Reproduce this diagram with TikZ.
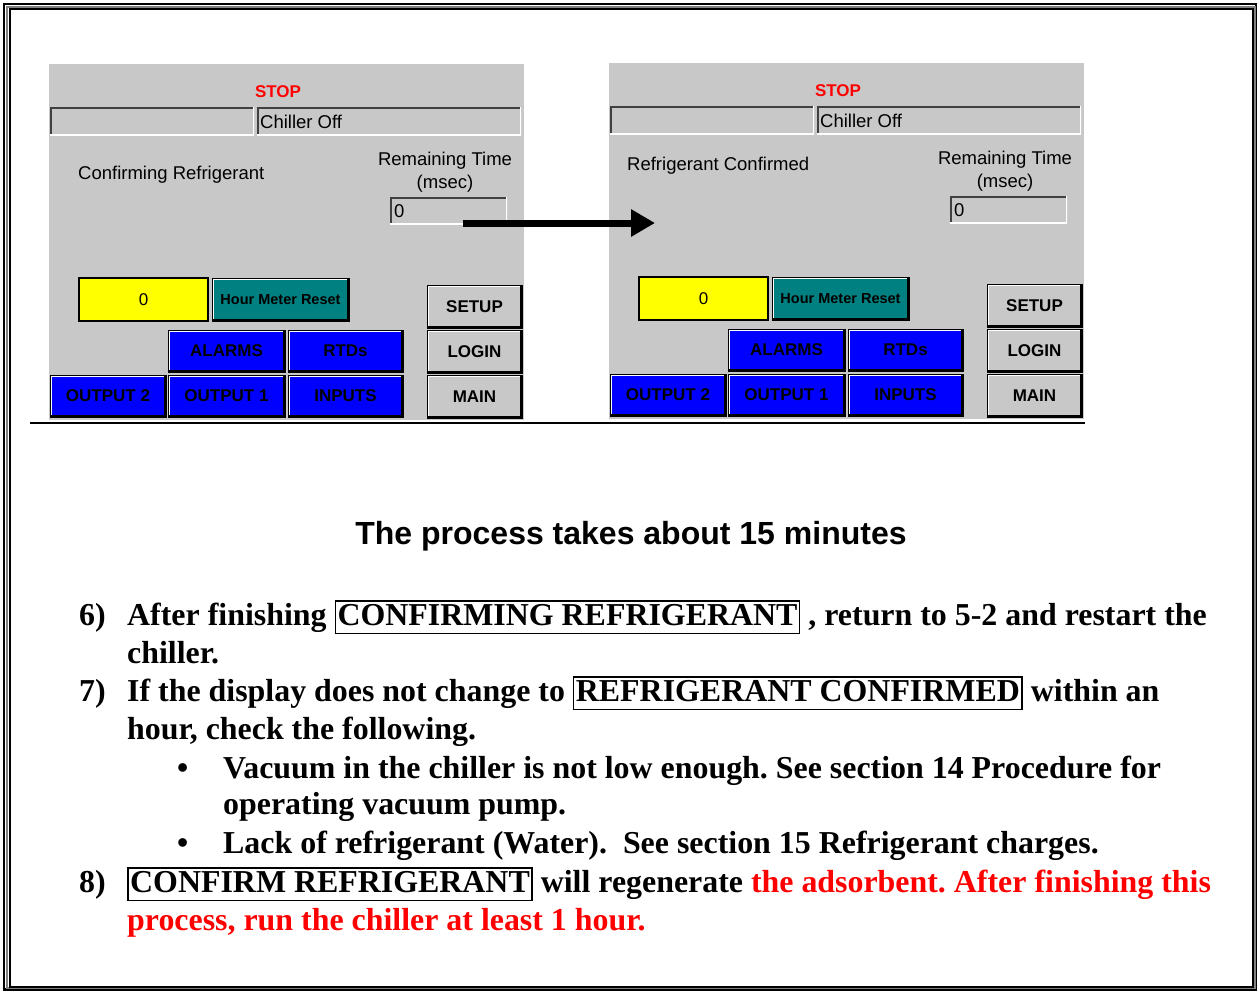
\documentclass[tikz,border=0pt]{standalone}
\usepackage{fontspec}
\setmainfont{Liberation Serif}
\newfontfamily\uifont{Liberation Sans}
\usetikzlibrary{arrows.meta, positioning}
\definecolor{panelgray}{RGB}{200,200,200}
\definecolor{edgedark}{RGB}{64,64,64}
\definecolor{btnblue}{RGB}{0,0,255}
\definecolor{btnteal}{RGB}{0,128,128}
\definecolor{lampyellow}{RGB}{255,255,0}
\definecolor{textred}{RGB}{255,0,0}
\definecolor{framegray}{RGB}{128,128,128}
\frenchspacing
\newcommand\wordbox[1]{{\setlength\fboxsep{1.5pt}\setlength\fboxrule{1.5pt}\fbox{\rule[-6pt]{0pt}{28pt}#1}}}
\tikzset{
  panelbg/.style={rectangle, fill=panelgray, inner sep=0},
  sunken/.style={rectangle, fill=panelgray, inner sep=0,
    path picture={
      \draw[edgedark, line width=4pt] (path picture bounding box.south west) -- (path picture bounding box.north west) -- (path picture bounding box.north east);
      \draw[white, line width=3pt] (path picture bounding box.north east) -- (path picture bounding box.south east) -- (path picture bounding box.south west);}},
  raised/.style={rectangle, draw=black, line width=0.8pt, inner sep=0,
    font=\uifont\bfseries\fontsize{17}{20}\selectfont,
    path picture={
      \draw[white, line width=3pt] (path picture bounding box.south west) -- (path picture bounding box.north west) -- (path picture bounding box.north east);
      \draw[black, line width=4pt] (path picture bounding box.north east) -- (path picture bounding box.south east) -- (path picture bounding box.south west);}},
  bluebtn/.style={raised, fill=btnblue, minimum height=42},
  graybtn/.style={raised, fill=panelgray, minimum width=95, minimum height=43},
  uitext/.style={inner sep=0, font=\uifont\fontsize{18.5}{23}\selectfont},
  bodytext/.style={inner sep=0, anchor=base west, font=\bfseries\fontsize{31.9}{38}\selectfont},
  titletext/.style={inner sep=0, font=\uifont\bfseries\fontsize{32}{38}\selectfont},
  bigarrow/.style={-{Triangle[length=24pt, width=26pt]}, line width=7pt}
}
\begin{document}
\begin{tikzpicture}[x=1pt, y=-1pt]
  \useasboundingbox (0,0) rectangle (1257,990);
  % page frame
  \draw[line width=2.5pt] (4,4) rectangle (1256,989.5);
  \draw[framegray, line width=2pt] (6.8,6.8) rectangle (1254.8,988.2);
  \draw[line width=2pt] (9.5,9.5) rectangle (1253,987);

  % the two screens
  \foreach \dx/\dy/\p/\msg/\mx/\my in {0/0/a/Confirming Refrigerant/78/175, 560/-1/b/Refrigerant Confirmed/67/167} {
    \begin{scope}[shift={(\dx,\dy)}]
      \node[panelbg, minimum width=475, minimum height=356] (panel-\p) at (286.5,242) {};
      \node[uitext, text=textred, font=\uifont\bfseries\fontsize{17}{20}\selectfont] (stop-\p) at (278,92) {STOP};
      \node[sunken, minimum width=204, minimum height=28] (field-\p) at (152,121) {};
      \node[sunken, minimum width=264, minimum height=28] (status-\p) at (389,121) {};
      \node[uitext, anchor=west] (chiller-\p) at (260,122) {Chiller Off};
      \node[uitext, anchor=west] (msg-\p) at (\mx,\my) {\msg};
      \node[uitext, align=center] (remain-\p) at (445,172) {Remaining Time\\(msec)};
      \node[sunken, minimum width=117, minimum height=27] (tbox-\p) at (448.5,210.5) {};
      \node[uitext, anchor=west] (tval-\p) at (394,211) {0};
      \node[draw=black, line width=1.5pt, fill=lampyellow, minimum width=129, minimum height=43, inner sep=0,
        font=\uifont\fontsize{17}{20}\selectfont] (hours-\p) at (143.5,299.5) {0};
      \node[raised, fill=btnteal, minimum width=137, minimum height=43,
        font=\uifont\bfseries\fontsize{14.5}{17}\selectfont] (reset-\p) at (280.5,299.5) {Hour Meter Reset};
      \node[graybtn] (setup-\p) at (474.5,306.5) {SETUP};
      \node[graybtn] (login-\p) at (474.5,351.5) {LOGIN};
      \node[graybtn] (main-\p) at (474.5,396.5) {MAIN};
      \node[bluebtn, minimum width=117] (alarms-\p) at (226.5,351) {ALARMS};
      \node[bluebtn, minimum width=115] (rtds-\p) at (345.5,351) {RTDs};
      \node[bluebtn, minimum width=116] (outtwo-\p) at (108,396) {OUTPUT 2};
      \node[bluebtn, minimum width=117] (outone-\p) at (226.5,396) {OUTPUT 1};
      \node[bluebtn, minimum width=115] (inputs-\p) at (345.5,396) {INPUTS};
    \end{scope}
  }
  \draw[line width=2pt] (30,423) -- (1085,423);

  % change of state
  \coordinate (arrtail) at (463,223);
  \coordinate (arrhead) at (655,223);
  \draw[bigarrow] (arrtail) -- (arrhead);

  \node[titletext] (title) at (631,536) {The process takes about 15 minutes};

  % steps
  \node[bodytext] (num6) at (79,625) {6)};
  \node[bodytext] (step6a) at (127,625) {After finishing \wordbox{CONFIRMING REFRIGERANT} , return to 5-2 and restart the};
  \node[bodytext] (step6b) at (127,663) {chiller.};
  \node[bodytext] (num7) at (79,701) {7)};
  \node[bodytext] (step7a) at (127,701) {If the display does not change to \wordbox{REFRIGERANT CONFIRMED} within an};
  \node[bodytext] (step7b) at (127,739) {hour, check the following.};
  \node[bodytext] (dot1) at (177,778) {\textbullet};
  \node[bodytext] (check1a) at (223,778) {Vacuum in the chiller is not low enough. See section 14 Procedure for};
  \node[bodytext] (check1b) at (223,814) {operating vacuum pump.};
  \node[bodytext] (dot2) at (177,853) {\textbullet};
  \node[bodytext] (check2) at (223,853) {Lack of refrigerant (Water).\ \ See section 15 Refrigerant charges.};
  \node[bodytext] (num8) at (79,892) {8)};
  \node[bodytext] (step8a) at (127,892) {\wordbox{CONFIRM REFRIGERANT} will regenerate \textcolor{textred}{the adsorbent. After finishing this}};
  \node[bodytext, text=textred] (step8b) at (127,930) {process, run the chiller at least 1 hour.};
\end{tikzpicture}
\end{document}
